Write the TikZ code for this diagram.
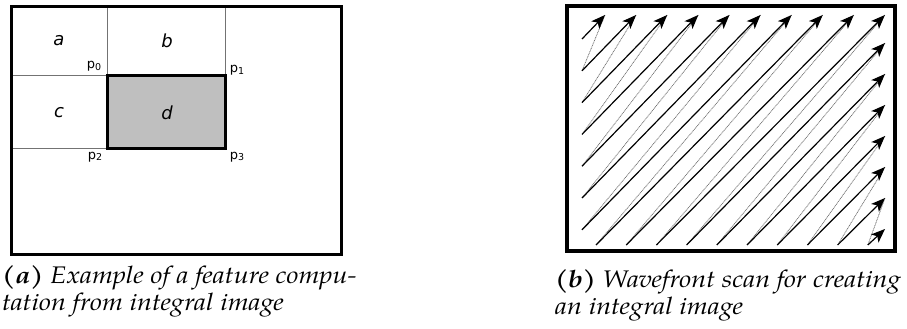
\documentclass[tikz,border=0pt]{standalone}
\usepackage{fontspec}
\setmainfont{TeX Gyre Pagella}
\newfontfamily\captfont{TeX Gyre Pagella}[FakeStretch=1.12]
\newfontfamily\dvs{DejaVu Sans}
\usetikzlibrary{arrows.meta}
\tikzset{
  frame/.style={draw=black,line width=3pt},
  thin grid/.style={draw=black!55,line width=1pt},
  region/.style={draw=black,line width=3pt,fill=black!25},
  letter/.style={font=\dvs\itshape\fontsize{18}{18}\selectfont,anchor=center,inner sep=0pt},
  plabel/.style={font=\dvs\fontsize{13}{13}\selectfont,anchor=base,inner sep=0pt},
  arr/.style={draw=black,line width=1.2pt,-{Stealth[length=14pt,width=11pt,inset=3.5pt]}},
  trail/.style={draw=black!55,line width=0.75pt,dash pattern=on 1pt off 0.7pt},
  capt/.style={anchor=base west,inner sep=0pt,font=\captfont\fontsize{24}{27}\selectfont\itshape}
}
\newcommand{\psub}[1]{p\raisebox{-1.5pt}{\fontsize{9.5}{9.5}\selectfont #1}}
\begin{document}
\begin{tikzpicture}[x=1pt,y=-1pt]
\useasboundingbox (0,0) rectangle (907,329);
% ---------- panel (a)
\coordinate (q0) at (107,75);
\coordinate (q1) at (225,75);
\coordinate (q2) at (107,148);
\coordinate (q3) at (225,148);
\draw[thin grid] (107,7) -- (q0);
\draw[thin grid] (225,7) -- (q1);
\draw[thin grid] (11,75) -- (q0);
\draw[thin grid] (11,148) -- (q2);
\draw[region] (q0) rectangle (q3);
\draw[frame] (11,7) rectangle (341,254);
\node[letter] (la) at (59,41) {a};
\node[letter] (lb) at (167,41) {b};
\node[letter] (lc) at (59,113) {c};
\node[letter] (ld) at (167,113) {d};
\node[plabel] (p0) at (94,69) {\psub{0}};
\node[plabel] (p1) at (237,73) {\psub{1}};
\node[plabel] (p2) at (95,159) {\psub{2}};
\node[plabel] (p3) at (237,159) {\psub{3}};
% ---------- panel (b)
\foreach \k in {1,...,7} \coordinate (s\k) at (582, {39+31.8*(\k-1)});
\foreach \k in {8,...,17} \coordinate (s\k) at ({596+30.2*(\k-8)}, 245);
\foreach \k in {1,...,10} \coordinate (t\k) at ({605+31.1*(\k-1)}, 15);
\foreach \k in {11,...,17} \coordinate (t\k) at (885, {43+31*(\k-11)});
\foreach \k [evaluate=\k as \n using int(\k+1)] in {1,...,16}
  \draw[trail] (t\k) -- (s\n);
\foreach \k in {1,...,17}
  \draw[arr] (s\k) -- (t\k);
\draw[frame,line width=4pt] (567,6) rectangle (895,251);
% ---------- captions
\node[capt] (ca1) at (2,283) {\textbf{(a)} Example of a feature compu-};
\node[capt] (ca2) at (2,310) {tation from integral image};
\node[capt] (cb1) at (555,287) {\textbf{(b)} Wavefront scan for creating};
\node[capt] (cb2) at (555,314) {an integral image};
\end{tikzpicture}
\end{document}
